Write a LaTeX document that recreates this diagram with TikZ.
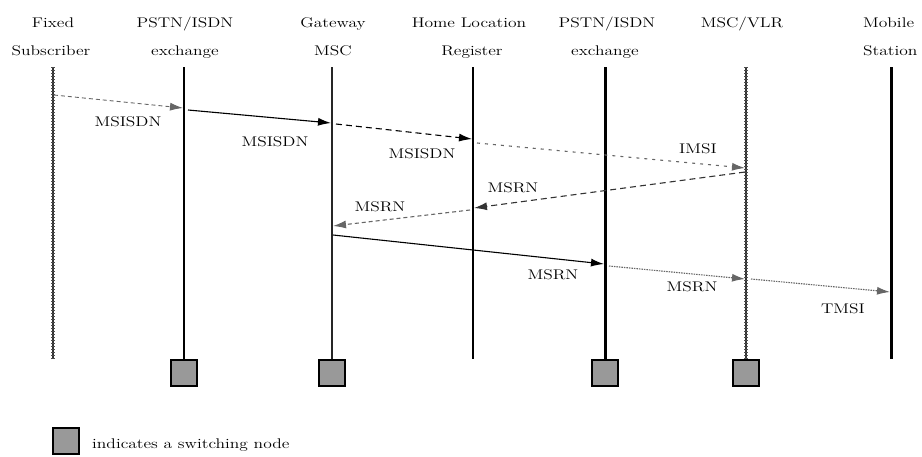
\documentclass[tikz,border=0pt]{standalone}
\usepackage{graphicx}
\usetikzlibrary{arrows.meta}
\newcommand{\wt}[1]{\scalebox{1.25}[1]{#1}}
\begin{document}
\begin{tikzpicture}[x=1pt,y=-1pt,
  txt/.style={font=\fontsize{14}{16}\selectfont, inner sep=0pt},
  hdr/.style={txt, anchor=base},
  life/.style={line width=2.6pt},
  lifehatch/.style={line width=1.6pt, black!80,
    postaction={draw, line width=4pt, black!70, dash pattern=on 0.7pt off 2.3pt}},
  swbox/.style={draw, line width=2pt, fill=black!40, minimum size=26pt, inner sep=0pt},
  msg/.style={line width=1.1pt, -{Latex[length=13pt,width=8pt]}},
  msgsolid/.style={msg},
  msgdash/.style={msg, dash pattern=on 6pt off 4pt},
  msglight/.style={msg, black!60, dash pattern=on 4pt off 3pt},
  msgdot/.style={msg, black!60, dash pattern=on 1.5pt off 1pt},
]
\useasboundingbox (0,0) rectangle (922,456);

% headers
\node[hdr] (h1a) at (53,27) {\wt{Fixed}};
\node[hdr] (h1b) at (51,55) {\wt{Subscriber}};
\node[hdr] (h2a) at (185,27) {\wt{PSTN/ISDN}};
\node[hdr] (h2b) at (185,55) {\wt{exchange}};
\node[hdr] (h3a) at (333,27) {\wt{Gateway}};
\node[hdr] (h3b) at (333,55) {\wt{MSC}};
\node[hdr] (h4a) at (469,27) {\wt{Home Location}};
\node[hdr] (h4b) at (472,55) {\wt{Register}};
\node[hdr] (h5a) at (607,27) {\wt{PSTN/ISDN}};
\node[hdr] (h5b) at (605,55) {\wt{exchange}};
\node[hdr] (h6a) at (742,27) {\wt{MSC/VLR}};
\node[hdr, anchor=base west] (h7a) at (863,27) {\wt{Mobile}};
\node[hdr, anchor=base west] (h7b) at (863,55) {\wt{Station}};

% lifeline tops and bottoms
\coordinate (t1) at (53,67);   \coordinate (e1) at (53,359);
\coordinate (t2) at (184,67);
\coordinate (t3) at (332,67);
\coordinate (t4) at (473,67);  \coordinate (e4) at (473,359);
\coordinate (t5) at (605,67);
\coordinate (t6) at (746,67);
\coordinate (t7) at (891,67);  \coordinate (e7) at (891,359);

% switching boxes
\node[swbox, anchor=north] (b2) at (184,359) {};
\node[swbox, anchor=north] (b3) at (332,359) {};
\node[swbox, anchor=north] (b5) at (605,359) {};
\node[swbox, anchor=north] (b6) at (746,359) {};

% lifelines
\draw[lifehatch] (t1) -- (e1);
\draw[life] (t2) -- (b2.north);
\draw[life, line width=2pt, black!85] (t3) -- (b3.north);
\draw[life] (t4) -- (e4);
\draw[life, line width=3pt] (t5) -- (b5.north);
\draw[lifehatch] (t6) -- (b6.north);
\draw[life, line width=3pt] (t7) -- (e7);

% message end points
\coordinate (m1s) at (54,95);   \coordinate (m1e) at (183,108);
\coordinate (m2s) at (188,110); \coordinate (m2e) at (331,123);
\coordinate (m3s) at (336,124); \coordinate (m3e) at (472,139);
\coordinate (m4s) at (477,143); \coordinate (m4e) at (745,168);
\coordinate (m5s) at (745,172); \coordinate (m5e) at (474,208);
\coordinate (m6s) at (470,210); \coordinate (m6e) at (333,226);
\coordinate (m7s) at (333,235); \coordinate (m7e) at (604,264);
\coordinate (m8s) at (609,266); \coordinate (m8e) at (745,279);
\coordinate (m9s) at (751,279); \coordinate (m9e) at (890,292);

% messages
\draw[msglight, line width=0.9pt] (m1s) -- (m1e);
\draw[msgsolid] (m2s) -- (m2e);
\draw[msgdash] (m3s) -- (m3e);
\draw[msg, black!60, dash pattern=on 3pt off 5pt] (m4s) -- (m4e);
\draw[msgdash, black!80] (m5s) -- (m5e);
\draw[msglight] (m6s) -- (m6e);
\draw[msgsolid] (m7s) -- (m7e);
\draw[msgdot] (m8s) -- (m8e);
\draw[msgdot] (m9s) -- (m9e);

% labels
\node[txt] (l1) at (128,122) {\wt{MSISDN}};
\node[txt] (l2) at (275,142) {\wt{MSISDN}};
\node[txt] (l3) at (422,154) {\wt{MSISDN}};
\node[txt] (l4) at (698,149) {\wt{IMSI}};
\node[txt] (l5) at (513,188) {\wt{MSRN}};
\node[txt] (l6) at (380,207) {\wt{MSRN}};
\node[txt] (l7) at (553,275) {\wt{MSRN}};
\node[txt] (l8) at (692,287) {\wt{MSRN}};
\node[txt] (l9) at (843,309) {\wt{TMSI}};

% legend
\node[swbox] (lg) at (66,441) {};
\node[txt, anchor=base west] (lgt) at (92,448) {\wt{indicates a switching node}};
\end{tikzpicture}
\end{document}
